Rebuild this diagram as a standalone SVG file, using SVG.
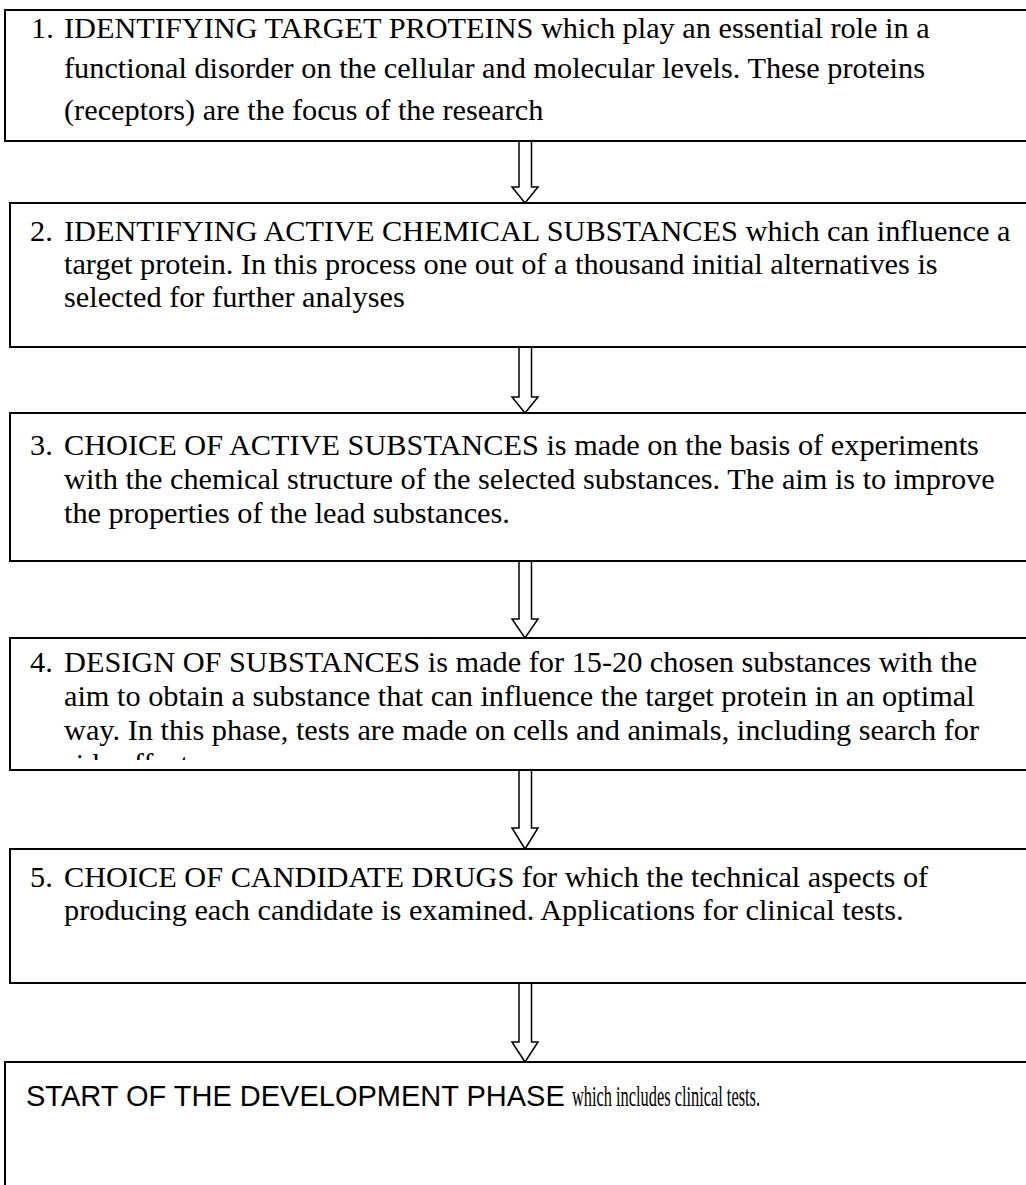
<svg xmlns="http://www.w3.org/2000/svg" width="1026" height="1185" viewBox="0 0 1026 1185">
<style>
  .box { fill: #fff; stroke: #000; stroke-width: 2; }
  .t { font-family: "Liberation Serif", "Times New Roman", serif; font-size: 30.3px; fill: #000; }
  .s { font-family: "Liberation Sans", Arial, sans-serif; font-size: 29px; fill: #000; }
  .arr { fill: #fff; stroke: #000; stroke-width: 1.5; stroke-linejoin: miter; }
</style>
<defs>
  <clipPath id="clip4"><rect x="10" y="638" width="1100" height="122"/></clipPath>
</defs>
<rect width="1026" height="1185" fill="#fff"/>

<g id="connectors">
  <path class="arr" d="M519,141 V187 H512 L525,203 L538,187 H531.5 V141 Z"/>
  <path class="arr" d="M519,347 V397 H512 L525,413 L538,397 H531.5 V347 Z"/>
  <path class="arr" d="M519,561 V619 H512 L525,638 L538,619 H531.5 V561 Z"/>
  <path class="arr" d="M519,770 V828 H512 L525,849 L538,828 H531.5 V770 Z"/>
  <path class="arr" d="M519,983 V1042 H512 L525,1062 L538,1042 H531.5 V983 Z"/>
</g>

<g id="node1">
  <rect class="box" x="5" y="10" width="1100" height="131"/>
  <text class="t" x="31" y="38">1.</text>
  <text class="t" x="64" y="38">IDENTIFYING TARGET PROTEINS which play an essential role in a</text>
  <text class="t" x="64" y="78">functional disorder on the cellular and molecular levels. These proteins</text>
  <text class="t" x="64" y="120">(receptors) are the focus of the research</text>
</g>

<g id="node2">
  <rect class="box" x="10" y="203" width="1100" height="144"/>
  <text class="t" x="30" y="241">2.</text>
  <text class="t" x="64" y="241">IDENTIFYING ACTIVE CHEMICAL SUBSTANCES which can influence a</text>
  <text class="t" x="64" y="274">target protein. In this process one out of a thousand initial alternatives is</text>
  <text class="t" x="64" y="307">selected for further analyses</text>
</g>

<g id="node3">
  <rect class="box" x="10" y="413" width="1100" height="148"/>
  <text class="t" x="30" y="455">3.</text>
  <text class="t" x="64" y="455">CHOICE OF ACTIVE SUBSTANCES is made on the basis of experiments</text>
  <text class="t" x="64" y="489">with the chemical structure of the selected substances. The aim is to improve</text>
  <text class="t" x="64" y="523">the properties of the lead substances.</text>
</g>

<g id="node4">
  <rect class="box" x="10" y="638" width="1100" height="132"/>
  <g clip-path="url(#clip4)">
    <text class="t" x="30" y="672">4.</text>
    <text class="t" x="64" y="672">DESIGN OF SUBSTANCES is made for 15-20 chosen substances with the</text>
    <text class="t" x="64" y="706">aim to obtain a substance that can influence the target protein in an optimal</text>
    <text class="t" x="64" y="740">way. In this phase, tests are made on cells and animals, including search for</text>
    <text class="t" x="64" y="774">side effects.</text>
  </g>
</g>

<g id="node5">
  <rect class="box" x="10" y="849" width="1100" height="134"/>
  <text class="t" x="30" y="887">5.</text>
  <text class="t" x="64" y="887">CHOICE OF CANDIDATE DRUGS for which the technical aspects of</text>
  <text class="t" x="64" y="920">producing each candidate is examined. Applications for clinical tests.</text>
</g>

<g id="node6">
  <rect class="box" x="5" y="1062" width="1100" height="200"/>
  <text class="s" x="26" y="1106">START OF THE DEVELOPMENT PHASE</text>
  <text class="t" x="572" y="1106" textLength="188" lengthAdjust="spacingAndGlyphs">which includes clinical tests.</text>
</g>
</svg>
